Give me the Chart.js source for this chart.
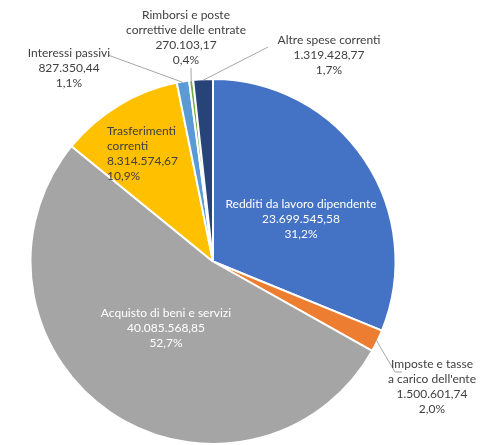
<!DOCTYPE html>
<html>
<head>
<meta charset="utf-8">
<script src="https://cdn.jsdelivr.net/npm/chart.js@4.4.0/dist/chart.umd.min.js"></script>
<style>
  html, body { margin: 0; padding: 0; background: #fff; }
  #wrap { width: 499px; height: 445px; }
</style>
</head>
<body>
<div id="wrap"><canvas id="pie" width="499" height="445"></canvas></div>
<script>
const categories = [
  "Redditi da lavoro dipendente",
  "Imposte e tasse\na carico dell'ente",
  "Acquisto di beni e servizi",
  "Trasferimenti\ncorrenti",
  "Interessi passivi",
  "Rimborsi e poste\ncorrettive delle entrate",
  "Altre spese correnti"
]
const values = [23699545.58, 1500601.74, 40085568.85, 8314574.67, 827350.44, 270103.17, 1319428.77]
const colors = ["#4472C4", "#ED7D31", "#A5A5A5", "#FFC000", "#5B9BD5", "#70AD47", "#264478"]

// where each label block sits, and the text colour / alignment
const labelPos = [
  { x: 301, y: 204, align: "center", color: "#fff" },
  { x: 432, y: 364, align: "center", color: "#404040", leader: [[395, 372], [402, 372]] },
  { x: 166, y: 313, align: "center", color: "#fff" },
  { x: 107, y: 131, align: "left", color: "#404040" },
  { x: 69, y: 53, align: "center", color: "#404040", leader: [[108, 55]] },
  { x: 186, y: 15, align: "center", color: "#404040", leader: [[191, 68]] },
  { x: 329, y: 40, align: "center", color: "#404040", leader: [[268, 47]] }
]

const total = values.reduce((a, b) => a + b, 0)

function fmtNum(v) {
  let parts = v.toFixed(2).split(".")
  let int = parts[0].replace(/\B(?=(\d{3})+(?!\d))/g, ".")
  return int + "," + parts[1]
}
function fmtPct(v) {
  return (v / total * 100).toFixed(1).replace(".", ",") + "%"
}

const labelPlugin = {
  id: "pieLabels",
  afterDraw(chart) {
    const ctx = chart.ctx
    const arcs = chart.getDatasetMeta(0).data
    ctx.save()
    ctx.font = "12px Lato"
    ctx.textBaseline = "middle"
    arcs.forEach((arc, i) => {
      const p = labelPos[i]
      // leader line from the slice edge
      if (p.leader) {
        const mid = (arc.startAngle + arc.endAngle) / 2
        const ex = arc.x + Math.cos(mid) * (arc.outerRadius - 1)
        const ey = arc.y + Math.sin(mid) * (arc.outerRadius - 1)
        ctx.strokeStyle = "#A6A6A6"
        ctx.lineWidth = 1
        ctx.beginPath()
        ctx.moveTo(ex, ey)
        p.leader.forEach(pt => ctx.lineTo(pt[0], pt[1]))
        ctx.stroke()
      }
      const lines = categories[i].split("\n").concat([fmtNum(values[i]), fmtPct(values[i])])
      ctx.fillStyle = p.color
      ctx.textAlign = p.align
      lines.forEach((t, k) => {
        ctx.fillText(t, p.x, p.y + k * 15)
      })
    })
    ctx.restore()
  }
}

new Chart(document.getElementById("pie"), {
  type: "pie",
  data: {
    labels: categories,
    datasets: [{
      data: values,
      backgroundColor: colors,
      borderColor: "#fff",
      borderWidth: 2
    }]
  },
  options: {
    responsive: false,
    animation: false,
    layout: { padding: { left: 29, right: 102, top: 78, bottom: 0 } },
    plugins: {
      legend: { display: false },
      tooltip: { enabled: false }
    }
  },
  plugins: [labelPlugin]
})
</script>
</body>
</html>
